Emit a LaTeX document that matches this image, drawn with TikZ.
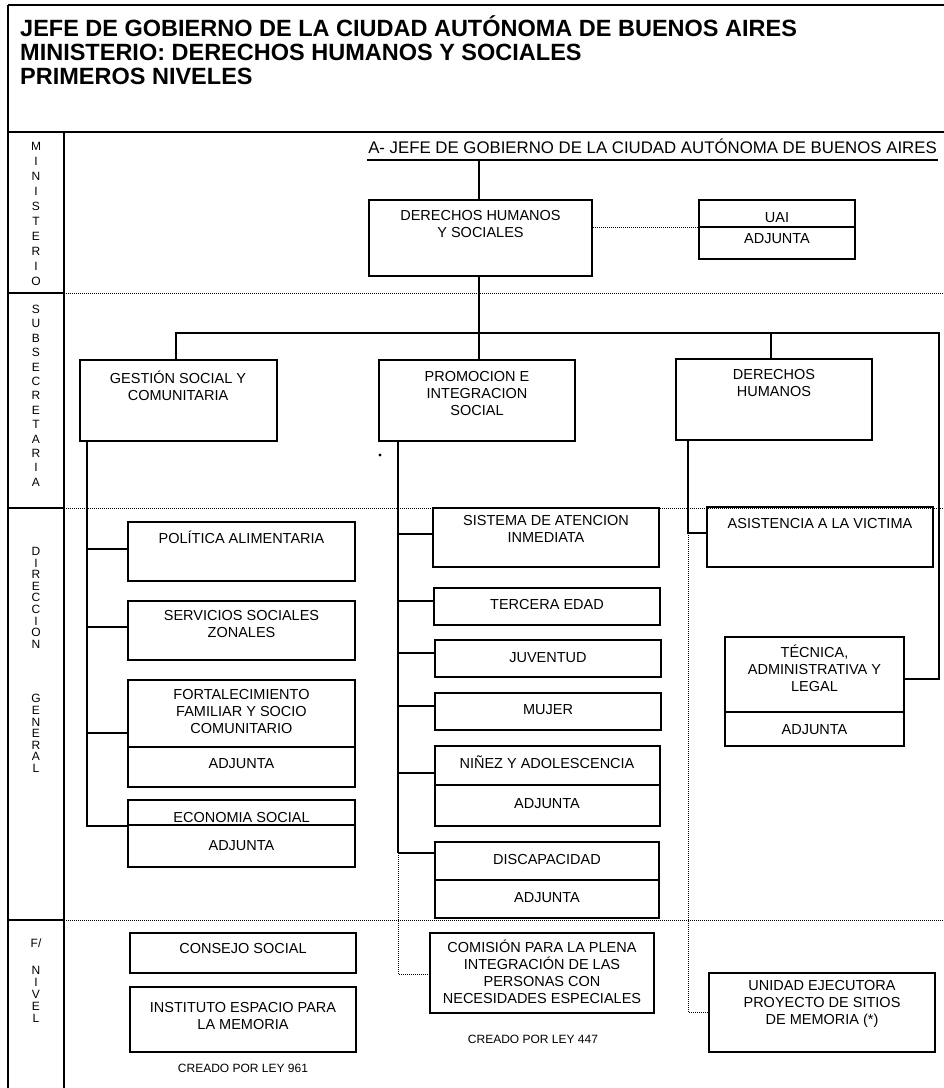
\documentclass[tikz,border=0pt]{standalone}
\usepackage{fontspec}
\setmainfont{Liberation Sans}
\usetikzlibrary{fit}
\newcommand\BX[5]{\node[bx, fit={(#2,#3) (#4,#5)}] (#1) {};}
\newcommand\TX[4]{\node[tx] (#1) at (#2,#3-7.8) {#4};}
\begin{document}
\begin{tikzpicture}[x=1pt,y=-1pt,
  bx/.style={draw, line width=1.4pt, inner sep=0pt},
  fr/.style={line width=1.4pt},
  ln/.style={line width=1.2pt},
  dl/.style={line width=0.8pt, dash pattern=on 0.9pt off 1.1pt},
  tx/.style={font=\fontsize{14.5}{16.8}\selectfont, align=center, inner sep=0pt, anchor=north, execute at begin node=\rule{0pt}{13pt}},
  hd/.style={font=\fontsize{23.5}{27}\selectfont\bfseries, anchor=base west, inner sep=0pt},
  tt/.style={font=\fontsize{16.8}{20}\selectfont, anchor=base, inner sep=0pt},
  sm/.style={font=\fontsize{12}{14}\selectfont, anchor=base, inner sep=0pt},
  cl/.style={align=center, inner sep=0pt, anchor=north, execute at begin node=\rule{0pt}{10.8pt}}
]
\useasboundingbox (0,0) rectangle (944,1088);
% frame
\draw[fr] (8,5) -- (944,5);
\draw[fr] (8,5) -- (8,1088);
\draw[fr] (8,132) -- (944,132);
\draw[fr] (64,132) -- (64,1088);
\foreach \y in {293,508,920}{
  \draw[fr] (8,\y) -- (64,\y);
  \draw[dl] (64,\y) -- (944,\y);
}
% header
\node[hd] (h1) at (20,36.5) {JEFE DE GOBIERNO DE LA CIUDAD AUTÓNOMA DE BUENOS AIRES};
\node[hd] (h2) at (20,60.5) {MINISTERIO: DERECHOS HUMANOS Y SOCIALES};
\node[hd] (h3) at (20,84.5) {PRIMEROS NIVELES};
% column labels
\node[cl, font=\fontsize{12}{15}\selectfont] (cmin) at (36,142.5) {M\\I\\N\\I\\S\\T\\E\\R\\I\\O};
\node[cl, font=\fontsize{12}{14.4}\selectfont] (csub) at (36,305) {S\\U\\B\\S\\E\\C\\R\\E\\T\\A\\R\\I\\A};
\node[cl, font=\fontsize{12}{11.6}\selectfont] (cdir) at (36,547) {D\\I\\R\\E\\C\\C\\I\\O\\N\\[43pt]G\\E\\N\\E\\R\\A\\L};
\node[cl, font=\fontsize{12}{12}\selectfont] (cniv) at (36,938.5) {F/\\[15pt]N\\I\\V\\E\\L};
% title
\node[tt] (jefe) at (652.5,153) {A- JEFE DE GOBIERNO DE LA CIUDAD AUTÓNOMA DE BUENOS AIRES};
\coordinate (ulL) at (367,160);
\coordinate (ulR) at (938,160);
\draw[ln] (ulL) -- (ulR);
\coordinate (vx) at (479,160);
% ministerio
\BX{dhs}{369}{200}{592}{276}
\TX{dhst}{480.5}{218}{DERECHOS HUMANOS\\Y SOCIALES}
\BX{uai}{699}{200}{855}{259}
\draw[ln] (699,227) -- (855,227);
\TX{uait}{777}{217}{UAI}
\TX{uaia}{777}{238}{ADJUNTA}
% subsecretaria
\BX{gest}{80}{360}{277}{441}
\TX{gestt}{178}{379}{GESTIÓN SOCIAL Y\\COMUNITARIA}
\BX{prom}{379}{360}{575}{441}
\TX{promt}{477}{379}{PROMOCION E\\INTEGRACION\\SOCIAL}
\BX{dh}{676}{359}{872}{440}
\TX{dht}{774}{377}{DERECHOS\\HUMANOS}
\fill (380,455) circle (1.6);
% direccion general - gestion
\BX{pol}{128}{522}{355}{581}
\TX{polt}{241.5}{538}{POLÍTICA ALIMENTARIA}
\BX{serv}{128}{601}{355}{660}
\TX{servt}{241.5}{618}{SERVICIOS SOCIALES\\ZONALES}
\BX{fort}{128}{680}{355}{787}
\draw[ln] (128,747) -- (355,747);
\TX{fortt}{241.5}{697}{FORTALECIMIENTO\\FAMILIAR Y SOCIO\\COMUNITARIO}
\TX{forta}{241.5}{763}{ADJUNTA}
\BX{econ}{128}{800}{355}{867}
\draw[ln] (128,825) -- (355,825);
\TX{econt}{241.5}{817}{ECONOMIA SOCIAL}
\TX{econa}{241.5}{845}{ADJUNTA}
% direccion general - promocion
\BX{sis}{433}{508}{659}{567}
\TX{sist}{546}{523}{SISTEMA DE ATENCION\\INMEDIATA}
\BX{ter}{434}{588}{660}{625}
\TX{tert}{547}{604}{TERCERA EDAD}
\BX{juv}{435}{640}{661}{677}
\TX{juvt}{548}{657}{JUVENTUD}
\BX{muj}{435}{693}{661}{730}
\TX{mujt}{548}{709}{MUJER}
\BX{nin}{435}{746}{660}{826}
\draw[ln] (435,785) -- (660,785);
\TX{nint}{547}{763}{NIÑEZ Y ADOLESCENCIA}
\TX{nina}{547}{803}{ADJUNTA}
\BX{dis}{435}{842}{659}{918}
\draw[ln] (435,880) -- (659,880);
\TX{dist}{547}{859}{DISCAPACIDAD}
\TX{disa}{547}{897}{ADJUNTA}
% direccion general - derechos humanos
\BX{asis}{707}{507}{933}{567}
\TX{asist}{820}{523}{ASISTENCIA A LA VICTIMA}
\BX{tec}{725}{637}{904}{746}
\draw[ln] (725,712) -- (904,712);
\TX{tect}{814.5}{653}{TÉCNICA,\\ADMINISTRATIVA Y\\LEGAL}
\TX{teca}{814.5}{729}{ADJUNTA}
% f/ nivel
\BX{cons}{130}{933}{356}{973}
\TX{const}{243}{948}{CONSEJO SOCIAL}
\BX{inst}{130}{987}{356}{1052}
\TX{instt}{243}{1010}{INSTITUTO ESPACIO PARA\\LA MEMORIA}
\node[sm] (ley961) at (243,1072) {CREADO POR LEY 961};
\BX{com}{430}{933}{654}{1013}
\TX{comt}{542}{948}{COMISIÓN PARA LA PLENA\\INTEGRACIÓN DE LAS\\PERSONAS CON\\NECESIDADES ESPECIALES}
\node[sm] (ley447) at (533,1043.5) {CREADO POR LEY 447};
\BX{uni}{709}{973}{935}{1052}
\TX{unit}{822}{988}{UNIDAD EJECUTORA\\PROYECTO DE SITIOS\\DE MEMORIA (*)}
% ---------------- connectors ----------------
\draw[ln] (vx) -- (dhs.north -| vx);
\draw[dl] (dhs.east |- 0,227) -- (uai.west |- 0,227);
\coordinate (busL) at (176,333);
\coordinate (busR) at (939,333);
\coordinate (tecR) at (939,679);
\coordinate (dhx) at (771,333);
\draw[ln] (gest.north -| busL) -- (busL) -- (busR) -- (tecR) -- (tec.east |- tecR);
\draw[ln] (dhs.south -| vx) -- (prom.north -| vx);
\draw[ln] (dhx) -- (dh.north -| dhx);
\coordinate (gx) at (87,441);
\draw[ln] (gest.south -| gx) -- (87,826) -- (econ.west |- 87,826);
\foreach \n/\y in {pol/549,serv/627,fort/733}{
  \draw[ln] (87,\y) -- (\n.west |- 87,\y);
}
\coordinate (px) at (398,441);
\draw[ln] (prom.south -| px) -- (398,853);
\foreach \n/\y in {sis/534,ter/601,juv/653,muj/706,nin/773,dis/853}{
  \draw[ln] (398,\y) -- (\n.west |- 398,\y);
}
\draw[dl] (398,853) -- (398,974) -- (com.west |- 398,974);
\coordinate (hx) at (688,440);
\draw[ln] (dh.south -| hx) -- (688,533) -- (asis.west |- 688,533);
\draw[dl] (688,533) -- (688,1012) -- (uni.west |- 688,1012);
\end{tikzpicture}
\end{document}
